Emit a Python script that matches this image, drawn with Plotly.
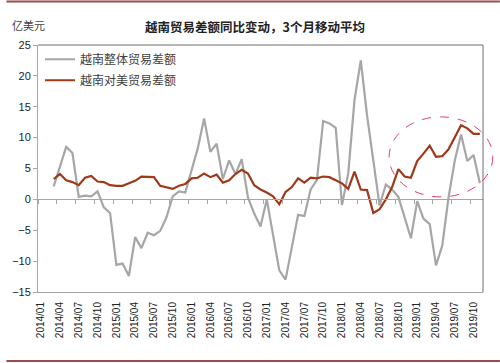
import plotly.graph_objects as go
import pandas as pd

# Monthly categories 2014/01 .. 2019/11
months = [p.strftime("%Y/%m") for p in pd.period_range("2014-01", "2019-11", freq="M")]

tick_labels = ["2014/01", "2014/04", "2014/07", "2014/10",
               "2015/01", "2015/04", "2015/07", "2015/10",
               "2016/01", "2016/04", "2016/07", "2016/10",
               "2017/01", "2017/04", "2017/07", "2017/10",
               "2018/01", "2018/04", "2018/07", "2018/10",
               "2019/01", "2019/04", "2019/07", "2019/10"]

total_balance = [None, None,
                 2.1, 5.4, 8.5, 7.5, 0.4, 0.6, 0.5, 1.3, -1.3, -2.2,
                 -10.6, -10.4, -12.4, -6.1, -7.9, -5.4, -5.8, -5.1, -2.9, 0.5, 1.3, 1.1,
                 4.9, 8.3, 13.1, 7.7, 9.0, 3.3, 6.3, 4.1, 6.5, 0.3, -2.3, -4.4,
                 0.0, -5.7, -11.5, -13.0, -7.7, -2.5, -2.7, 1.6, 3.1, 12.7, 12.3, 11.6,
                 -0.9, 4.2, 16.1, 22.5, 13.6, 6.4, -1.0, 2.4, 1.6, 0.4, -2.9, -6.3,
                 -0.3, -3.1, -4.0, -10.7, -7.5, 0.3, 6.3, 10.5, 6.2, 7.2, 2.6]

us_balance = [None, None,
              3.3, 4.1, 3.1, 2.8, 2.3, 3.5, 3.8, 2.9, 2.8, 2.3,
              2.2, 2.2, 2.6, 3.0, 3.7, 3.7, 3.6, 2.2, 2.0, 1.7, 2.2, 2.5,
              3.4, 3.5, 4.2, 3.6, 4.0, 2.7, 3.1, 4.1, 4.8, 4.2, 2.3, 1.6,
              1.1, 0.5, -0.8, 1.2, 2.0, 3.4, 2.7, 3.5, 3.4, 3.7, 3.6, 3.1,
              2.6, 1.7, 4.5, 1.6, 1.5, -2.2, -1.6, 0.0, 2.0, 4.9, 3.7, 3.5,
              6.2, 7.4, 8.7, 6.9, 7.0, 8.1, 10.0, 12.0, 11.5, 10.6, 10.6]

series_names = ["越南整体贸易差额", "越南对美贸易差额"]
y_range = [-15, 25]

xi = list(range(len(months)))
tick_pos = [months.index(t) for t in tick_labels]

CJK = "Noto Sans CJK SC"
LAT = "Liberation Sans, Arial, sans-serif"

fig = go.Figure()
fig.add_trace(go.Scatter(x=xi, y=total_balance, mode="lines", name=series_names[0],
                         line=dict(color="#A6A6A6", width=2.2), legendgroup="a"))
fig.add_trace(go.Scatter(x=xi, y=us_balance, mode="lines", name=series_names[1],
                         line=dict(color="#A0381A", width=2.2), legendgroup="b"))
# helper trace for the category axis crossing at zero
fig.add_trace(go.Scatter(x=[None], y=[None], xaxis="x2", showlegend=False, hoverinfo="skip"))

zero_pos = (0 - y_range[0]) / (y_range[1] - y_range[0])

fig.update_layout(
    width=500, height=363,
    margin=dict(l=32, r=17, t=45, b=71),
    paper_bgcolor="white", plot_bgcolor="white",
    showlegend=True,
    legend=dict(x=0.0045, y=1.001, xanchor="left", yanchor="top",
                font=dict(family=CJK, size=12, color="#404040"),
                bgcolor="rgba(0,0,0,0)", tracegroupgap=2, traceorder="grouped",
                itemwidth=30),
    title=dict(text="<b>越南贸易差额同比变动，3个月移动平均</b>",
               x=0.51, xanchor="center", y=1 - 28 / 363, yanchor="middle",
               font=dict(family=CJK, size=12.5, color="#222222")),
    xaxis=dict(range=[-0.5, len(months) - 0.5], tickmode="array", tickvals=tick_pos,
               ticktext=tick_labels, tickangle=-90, ticks="", showgrid=False,
               zeroline=False, showline=True, linecolor="#A6A6A6", linewidth=1,
               tickfont=dict(family=LAT, size=10, color="#222222"),
               ticklabelstandoff=5),
    xaxis2=dict(overlaying="x", anchor="free", position=zero_pos,
                range=[-0.5, len(months) - 0.5], tickmode="array",
                tickvals=[p - 0.5 for p in tick_pos], showticklabels=False,
                ticks="outside", ticklen=4, tickcolor="#A6A6A6",
                showline=True, linecolor="#A6A6A6", linewidth=1,
                showgrid=False, zeroline=False),
    yaxis=dict(range=y_range, dtick=5, ticks="outside", ticklen=4, tickcolor="#A6A6A6",
               showgrid=False, zeroline=False, showline=True, linecolor="#A6A6A6",
               linewidth=1, tickfont=dict(family=LAT, size=11, color="#222222")),
)

# unit label
fig.add_annotation(text="亿美元", xref="paper", yref="paper", x=-0.062, y=1.081,
                   xanchor="left", yanchor="middle", showarrow=False,
                   font=dict(family=CJK, size=11, color="#404040"))

# frame top & right
fig.add_shape(type="line", xref="paper", yref="paper", x0=0, x1=1, y0=1, y1=1,
              line=dict(color="#6E6E6E", width=1))
fig.add_shape(type="line", xref="paper", yref="paper", x0=1, x1=1, y0=0, y1=1,
              line=dict(color="#6E6E6E", width=1))

# dashed highlight ellipse
fig.add_shape(type="circle", xref="paper", yref="paper",
              x0=0.789, x1=1.022, y0=0.385, y1=0.709,
              line=dict(color="#E0405F", width=1, dash="dash"))

# decorative report rules at top and bottom
fig.add_shape(type="line", xref="paper", yref="paper", x0=-0.071, x1=1.038,
              y0=1.176, y1=1.176, line=dict(color="#9B4B4B", width=2))
fig.add_shape(type="line", xref="paper", yref="paper", x0=-0.071, x1=1.038,
              y0=-0.279, y1=-0.279, line=dict(color="#9B4B4B", width=2))

fig.write_html("out.html", config={"displayModeBar": False},
               post_script="document.body.style.margin='0';document.body.style.overflow='hidden';")
